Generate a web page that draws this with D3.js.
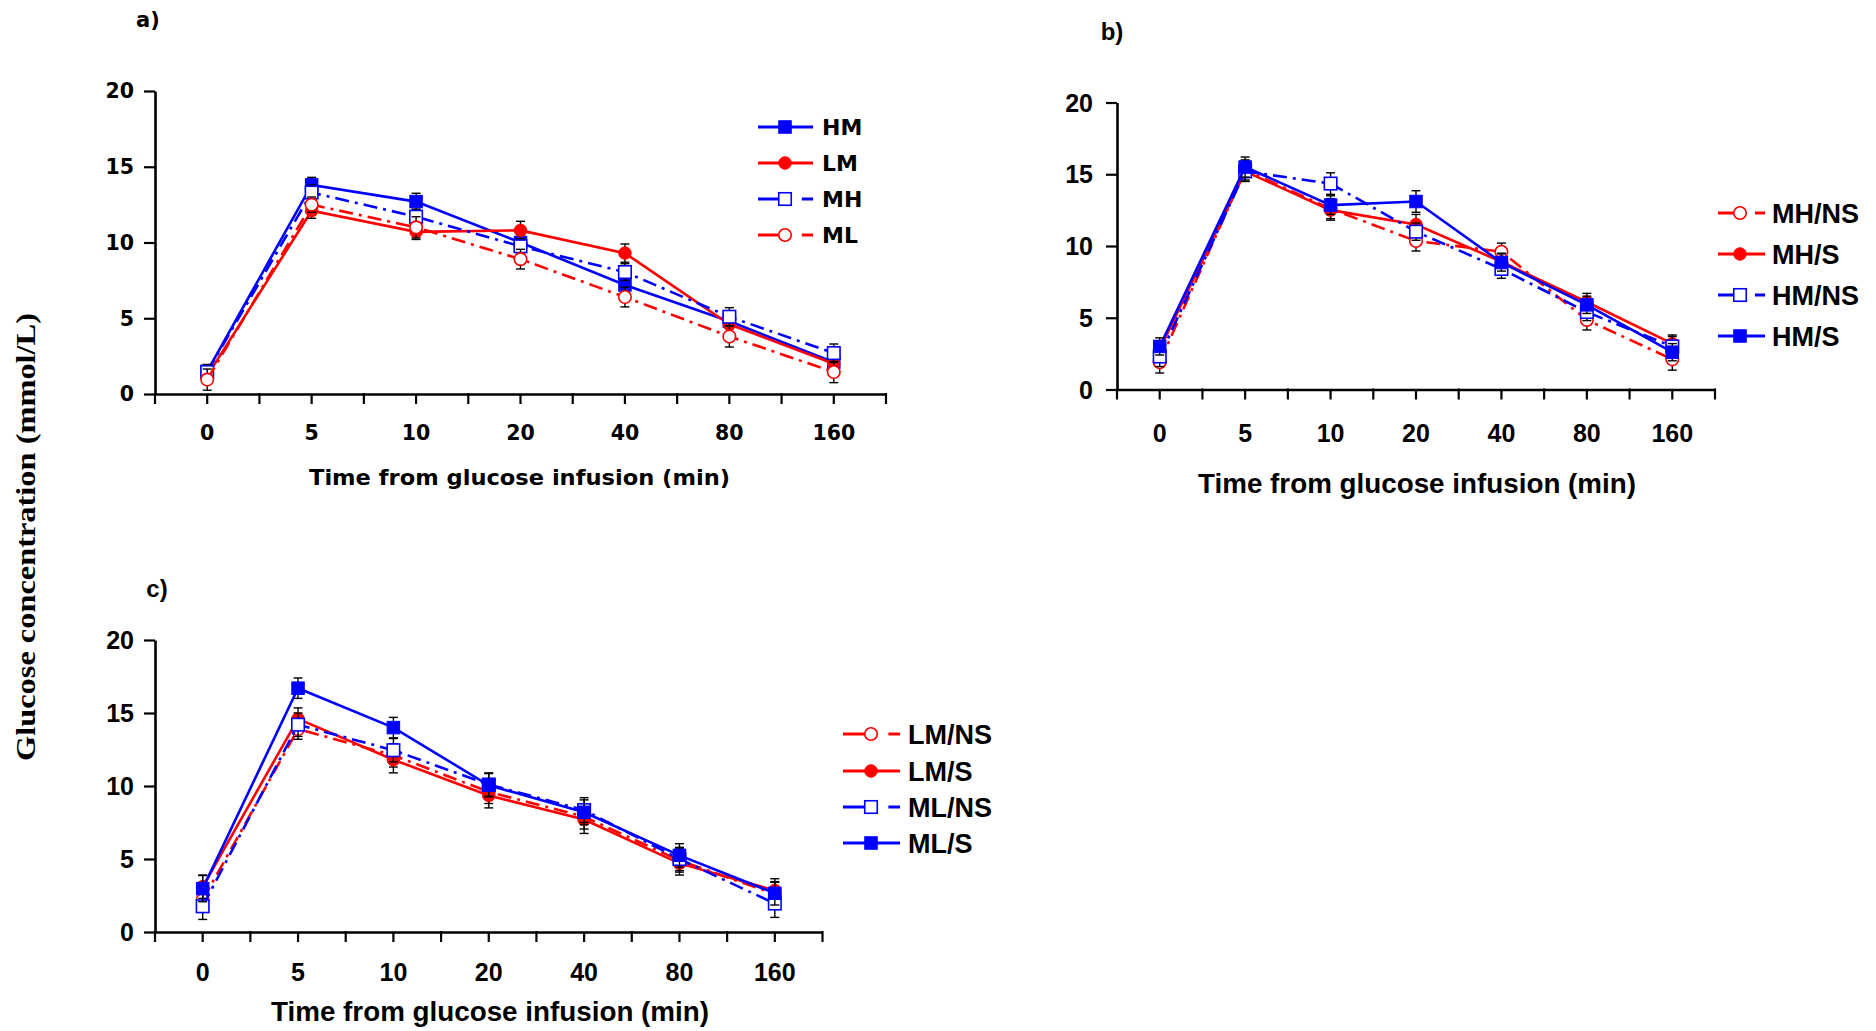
<!DOCTYPE html>
<html><head><meta charset="utf-8">
<script src="https://cdn.jsdelivr.net/npm/d3@7"></script>
<style>body{margin:0;background:#fff;} svg{display:block;}</style>
</head><body>
<svg id="chart" width="1876" height="1031"></svg>
<script>
// ---------- DATA ----------
const times = ["0","5","10","20","40","80","160"];
const yTickValues = [0, 5, 10, 15, 20];
const xTitle = "Time from glucose infusion (min)";
const yTitle = "Glucose concentration (mmol/L)";

// panel a
const aNames = ["HM", "LM", "MH", "ML"];
const aHM = [1.5, 13.8, 12.7, 10.0, 7.2, 4.8, 2.1];
const aLM = [1.2, 12.1, 10.7, 10.8, 9.3, 4.6, 2.0];
const aMH = [1.45, 13.3, 11.7, 9.75, 8.05, 5.1, 2.7];
const aML = [0.95, 12.5, 11.0, 8.9, 6.4, 3.8, 1.45];
const aHMerr = [0.4, 0.5, 0.55, 0.5, 0.5, 0.5, 0.5];
const aLMerr = [0.5, 0.5, 0.5, 0.6, 0.6, 0.5, 0.5];
const aMHerr = [0.5, 0.5, 0.5, 0.5, 0.55, 0.6, 0.6];
const aMLerr = [0.7, 0.5, 0.7, 0.65, 0.65, 0.7, 0.7];

// panel b
const bNames = ["MH/NS", "MH/S", "HM/NS", "HM/S"];
const bMHNS = [1.9, 15.3, 12.6, 10.35, 9.6, 4.85, 2.1];
const bMHS  = [2.8, 15.2, 12.5, 11.5, 8.9, 6.1, 3.2];
const bHMNS = [2.3, 15.2, 14.35, 11.0, 8.4, 5.4, 3.0];
const bHMS  = [3.0, 15.5, 12.85, 13.1, 8.85, 5.9, 2.6];
const bMHNSerr = [0.75, 0.7, 0.7, 0.7, 0.6, 0.7, 0.75];
const bMHSerr  = [0.6, 0.7, 0.7, 0.7, 0.6, 0.6, 0.6];
const bHMNSerr = [0.7, 0.7, 0.75, 0.6, 0.65, 0.6, 0.7];
const bHMSerr  = [0.6, 0.7, 0.65, 0.75, 0.6, 0.6, 0.6];

// panel c
const cNames = ["LM/NS", "LM/S", "ML/NS", "ML/S"];
const cLMNS = [2.2, 13.9, 12.1, 9.6, 7.9, 4.9, 2.6];
const cLMS  = [3.1, 14.6, 11.8, 9.35, 7.7, 4.7, 2.85];
const cMLNS = [1.76, 14.2, 12.45, 10.1, 8.35, 5.0, 1.95];
const cMLS  = [2.97, 16.7, 14.0, 10.05, 8.2, 5.25, 2.65];
const cLMNSerr = [0.8, 0.7, 0.8, 0.8, 0.85, 0.8, 0.8];
const cLMSerr  = [0.8, 0.75, 0.9, 0.85, 0.95, 0.8, 0.8];
const cMLNSerr = [0.9, 0.8, 0.8, 0.8, 0.85, 0.8, 0.95];
const cMLSerr  = [0.9, 0.7, 0.7, 0.8, 0.85, 0.8, 0.8];

// ---------- STYLES / LAYOUT ----------
const BLUE = "#0000ff", RED = "#ff0000";
const sty = {
  filledSquare: {color: BLUE, shape: "square", fill: true, dash: null},
  filledCircle: {color: RED, shape: "circle", fill: true, dash: null},
  openSquare:   {color: BLUE, shape: "square", fill: false, dash: "14,6,3,6"},
  openCircle:   {color: RED, shape: "circle", fill: false, dash: "14,6,3,6"}
};

const panels = [
  {
    label: "a)", labelX: 148, labelY: 19, labelFont: "'DejaVu Sans'", labelSize: 21,
    left: 155, right: 886, y0: 394, y20: 91,
    font: "'DejaVu Sans'", tickSize: 20.5, yLabRight: 134, xLabY: 433,
    titleSize: 21, titleX: 519.5, titleY: 477, titleLen: 421,
    legLineX1: 758, legLineX2: 813, legMarkX: 785, legTextX: 822, legRows: [127, 163, 199, 235], legSize: 22,
    series: [
      {name: aNames[0], vals: aHM, err: aHMerr, s: sty.filledSquare},
      {name: aNames[1], vals: aLM, err: aLMerr, s: sty.filledCircle},
      {name: aNames[2], vals: aMH, err: aMHerr, s: sty.openSquare},
      {name: aNames[3], vals: aML, err: aMLerr, s: sty.openCircle}
    ]
  },
  {
    label: "b)", labelX: 1112, labelY: 31, labelFont: "'Liberation Sans', Arial", labelSize: 24,
    left: 1117, right: 1715, y0: 389.5, y20: 102.5,
    font: "'Liberation Sans', Arial", tickSize: 25, yLabRight: 1093, xLabY: 433,
    titleSize: 28, titleX: 1417, titleY: 483, titleLen: 438,
    legLineX1: 1718, legLineX2: 1765, legMarkX: 1740, legTextX: 1772, legRows: [213, 254, 295, 336], legSize: 27,
    series: [
      {name: bNames[0], vals: bMHNS, err: bMHNSerr, s: sty.openCircle},
      {name: bNames[1], vals: bMHS, err: bMHSerr, s: sty.filledCircle},
      {name: bNames[2], vals: bHMNS, err: bHMNSerr, s: sty.openSquare},
      {name: bNames[3], vals: bHMS, err: bHMSerr, s: sty.filledSquare}
    ]
  },
  {
    label: "c)", labelX: 157, labelY: 588, labelFont: "'Liberation Sans', Arial", labelSize: 24,
    left: 155, right: 822.5, y0: 932, y20: 640,
    font: "'Liberation Sans', Arial", tickSize: 25, yLabRight: 134, xLabY: 972,
    titleSize: 27, titleX: 490, titleY: 1011, titleLen: 438,
    legLineX1: 843, legLineX2: 900, legMarkX: 871, legTextX: 908, legRows: [734, 771, 807, 843], legSize: 27,
    series: [
      {name: cNames[0], vals: cLMNS, err: cLMNSerr, s: sty.openCircle},
      {name: cNames[1], vals: cLMS, err: cLMSerr, s: sty.filledCircle},
      {name: cNames[2], vals: cMLNS, err: cMLNSerr, s: sty.openSquare},
      {name: cNames[3], vals: cMLS, err: cMLSerr, s: sty.filledSquare}
    ]
  }
];

const svg = d3.select("#chart");
const MS = 12.5; // marker size

function marker(g, s, cx, cy) {
  if (s.shape === "square") {
    g.append("rect").attr("x", cx - MS/2).attr("y", cy - MS/2).attr("width", MS).attr("height", MS)
      .attr("fill", s.fill ? s.color : "#fff").attr("stroke", s.color).attr("stroke-width", s.fill ? 1 : 1.6);
  } else {
    g.append("ellipse").attr("cx", cx).attr("cy", cy).attr("rx", MS/2).attr("ry", MS/2)
      .attr("fill", s.fill ? s.color : "#fff").attr("stroke", s.color).attr("stroke-width", s.fill ? 1 : 1.6);
  }
}

function drawPanel(p) {
  const g = svg.append("g");
  const x = d3.scaleBand().domain(times).range([p.left, p.right]).padding(0);
  const y = d3.scaleLinear().domain([0, 20]).range([p.y0, p.y20]);
  const cx = t => x(t) + x.bandwidth() / 2;

  // y axis
  const ya = g.append("g").attr("transform", `translate(${p.left},0)`)
    .call(d3.axisLeft(y).tickValues(yTickValues).tickSize(11).tickSizeOuter(0).tickFormat(""));
  ya.select(".domain").attr("stroke", "#000").attr("stroke-width", 2.6);
  ya.selectAll(".tick line").attr("stroke", "#000").attr("stroke-width", 2.2);

  // x axis
  const xa = g.append("g").attr("transform", `translate(0,${p.y0})`)
    .call(d3.axisBottom(x).tickSize(10).tickSizeOuter(0).tickFormat(""));
  xa.select(".domain").attr("stroke", "#000").attr("stroke-width", 2.6);
  xa.selectAll(".tick line").attr("stroke", "#000").attr("stroke-width", 2.2);
  const edges = times.map(t => x(t)).concat([x.range()[1]]);
  g.selectAll(".edge").data(edges).join("line")
    .attr("x1", d => d).attr("x2", d => d).attr("y1", p.y0 - 1).attr("y2", p.y0 + 10)
    .attr("stroke", "#000").attr("stroke-width", 2.2);

  // tick labels
  g.selectAll(".ylab").data(yTickValues).join("text")
    .attr("x", p.yLabRight).attr("y", d => y(d)).attr("dy", "0.36em")
    .attr("text-anchor", "end").attr("font-family", p.font).attr("font-weight", "bold")
    .attr("font-size", p.tickSize).text(d => d);
  g.selectAll(".xlab").data(times).join("text")
    .attr("x", d => cx(d)).attr("y", p.xLabY).attr("dy", "0.36em")
    .attr("text-anchor", "middle").attr("font-family", p.font).attr("font-weight", "bold")
    .attr("font-size", p.tickSize).text(d => d);

  // title
  g.append("text").attr("x", p.titleX).attr("y", p.titleY).attr("dy", "0.36em")
    .attr("text-anchor", "middle").attr("font-family", p.font).attr("font-weight", "bold")
    .attr("font-size", p.titleSize).attr("textLength", p.titleLen).attr("lengthAdjust", "spacingAndGlyphs")
    .text(xTitle);

  // panel label
  g.append("text").attr("x", p.labelX).attr("y", p.labelY).attr("dy", "0.36em")
    .attr("text-anchor", "middle").attr("font-family", p.labelFont).attr("font-weight", "bold")
    .attr("font-size", p.labelSize).text(p.label);

  const line = d3.line().x((d, i) => cx(times[i])).y(d => y(d));

  p.series.forEach(se => {
    const sg = g.append("g");
    sg.append("path").attr("d", line(se.vals)).attr("fill", "none")
      .attr("stroke", se.s.color).attr("stroke-width", 2.6)
      .attr("stroke-dasharray", se.s.dash);
    // error bars
    se.vals.forEach((v, i) => {
      const xx = cx(times[i]), e = se.err[i];
      sg.append("line").attr("x1", xx).attr("x2", xx).attr("y1", y(v - e)).attr("y2", y(v + e))
        .attr("stroke", "#000").attr("stroke-width", 1.4);
      [v - e, v + e].forEach(w => {
        sg.append("line").attr("x1", xx - 4.5).attr("x2", xx + 4.5).attr("y1", y(w)).attr("y2", y(w))
          .attr("stroke", "#000").attr("stroke-width", 1.4);
      });
    });
    se.vals.forEach((v, i) => marker(sg, se.s, cx(times[i]), y(v)));
  });

  // legend
  p.series.forEach((se, k) => {
    const ly = p.legRows[k];
    const lg = g.append("g");
    if (se.s.dash) {
      lg.append("line").attr("x1", p.legLineX1).attr("x2", p.legMarkX - 4).attr("y1", ly).attr("y2", ly)
        .attr("stroke", se.s.color).attr("stroke-width", 3);
      lg.append("line").attr("x1", p.legMarkX + (p.legLineX2 - p.legMarkX) * 0.6).attr("x2", p.legLineX2)
        .attr("y1", ly).attr("y2", ly).attr("stroke", se.s.color).attr("stroke-width", 3);
    } else {
      lg.append("line").attr("x1", p.legLineX1).attr("x2", p.legLineX2).attr("y1", ly).attr("y2", ly)
        .attr("stroke", se.s.color).attr("stroke-width", 3);
    }
    marker(lg, se.s, p.legMarkX, ly);
    lg.append("text").attr("x", p.legTextX).attr("y", ly).attr("dy", "0.36em")
      .attr("font-family", p.font).attr("font-weight", "bold").attr("font-size", p.legSize)
      .text(se.name);
  });
}

panels.forEach(drawPanel);

// shared y-axis title
svg.append("text")
  .attr("transform", "translate(26,537) rotate(-90)")
  .attr("text-anchor", "middle").attr("dy", "0.35em")
  .attr("font-family", "'Liberation Serif', 'Times New Roman', serif").attr("font-weight", "bold")
  .attr("font-size", 27).attr("textLength", 448).attr("lengthAdjust", "spacingAndGlyphs")
  .text(yTitle);
</script>
</body></html>
